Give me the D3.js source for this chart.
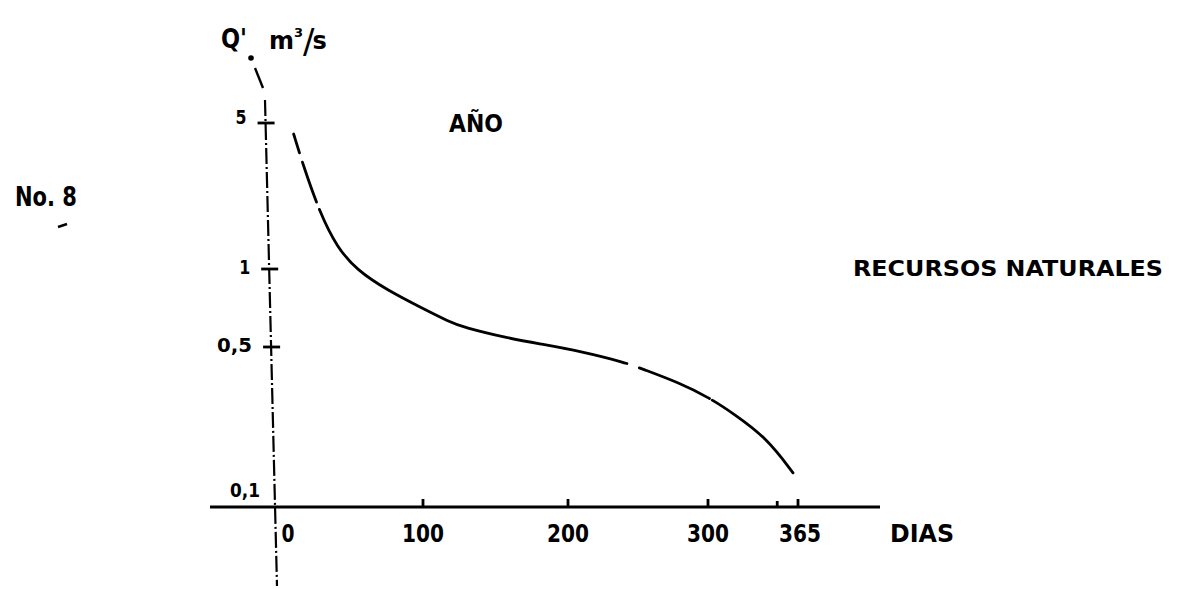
<!DOCTYPE html>
<html><head><meta charset="utf-8">
<script src="https://cdn.jsdelivr.net/npm/d3@7"></script>
<style>body{margin:0;background:#fff}svg{display:block}</style></head>
<body><svg id="c" width="1177" height="589"></svg>
<script>
// ---- data ----
const days  = [12, 18.4, 29.9, 41.5, 55, 75.5, 98, 118.6, 127.6, 157.9, 180.7, 208.6, 242, 251, 280, 301.4, 318, 342.6, 361.4];
const flows = [4.43, 3.15, 1.85, 1.27, 0.99, 0.83, 0.713, 0.624, 0.597, 0.542, 0.514, 0.480, 0.426, 0.405, 0.348, 0.299, 0.257, 0.200, 0.141];
const gapDays = [[16, 18], [27.5, 29.5], [242, 251], [301, 303]];
const xTickValues = [100, 200, 300, 350, 365];
const xLabelValues = [0, 100, 200, 300, 365];
const xLabelTexts = ["0", "100", "200", "300", "365"];
const yTickValues = [5, 1, 0.5, 0.1];
const yTickLabels = ["5", "1", "0,5", "0,1"];

const svg = d3.select("#c");
const FONT = "DejaVu Sans, sans-serif";

// hand-drawn axes: piecewise scales matching the drawing
const x = d3.scaleLinear().domain([0, 100, 200, 300, 365]).range([276, 423, 568, 708, 798]);
const y = d3.scaleLog().domain([0.1, 0.5, 1, 5]).range([507, 347, 269, 123]);

// y axis (slightly slanted dash-dot line)
const axTop = [265, 100], axBot = [277, 586];
const axisX = py => axTop[0] + (axBot[0] - axTop[0]) * (py - axTop[1]) / (axBot[1] - axTop[1]);
svg.append("line").attr("x1", axTop[0]).attr("y1", axTop[1]).attr("x2", axBot[0]).attr("y2", axBot[1])
  .attr("stroke", "#000").attr("stroke-width", 2.2).attr("stroke-dasharray", "16,3,2,3");
svg.append("line").attr("x1", 255).attr("y1", 68).attr("x2", 263).attr("y2", 88)
  .attr("stroke", "#000").attr("stroke-width", 2.4);
svg.append("circle").attr("cx", 251).attr("cy", 58).attr("r", 2.8).attr("fill", "#000");

// y ticks and labels
yTickValues.forEach((v, i) => {
  const py = y(v), ax = axisX(py);
  if (v !== 0.1) {
    svg.append("line").attr("x1", ax - 8).attr("x2", ax + 9).attr("y1", py).attr("y2", py)
      .attr("stroke", "#000").attr("stroke-width", 2.8);
  }
  const isLow = v === 0.1;
  const t = svg.append("text").attr("x", ax - (isLow ? 15 : 19)).attr("y", py + (isLow ? -17 : (v === 5 ? -6 : -2)))
    .attr("text-anchor", "end").attr("dominant-baseline", "central")
    .attr("font-family", FONT).attr("font-size", 20).attr("font-weight", "bold")
    .text(yTickLabels[i]);
  if (yTickLabels[i].length > 1) t.attr("textLength", isLow ? 30 : 35).attr("lengthAdjust", "spacingAndGlyphs");
  else t.attr("textLength", 11).attr("lengthAdjust", "spacingAndGlyphs");
});

// x axis
svg.append("line").attr("x1", 210).attr("x2", 880).attr("y1", y(0.1)).attr("y2", y(0.1))
  .attr("stroke", "#000").attr("stroke-width", 3);
svg.selectAll(".xt").data(xTickValues).join("line").attr("class", "xt")
  .attr("x1", d => x(d)).attr("x2", d => x(d))
  .attr("y1", y(0.1)).attr("y2", d => y(0.1) - (d === 350 ? 6 : 8))
  .attr("stroke", "#000").attr("stroke-width", 2.8);
svg.selectAll(".xl").data(xLabelValues).join("text").attr("class", "xl")
  .attr("x", d => x(d) + (d === 0 ? 12 : d === 365 ? 2 : 0))
  .attr("y", 533).attr("text-anchor", "middle").attr("dominant-baseline", "central")
  .attr("font-family", FONT).attr("font-size", 25).attr("font-weight", "bold")
  .attr("textLength", (d, i) => xLabelTexts[i].length > 1 ? 42 : 13)
  .attr("lengthAdjust", "spacingAndGlyphs")
  .text((d, i) => xLabelTexts[i]);

// curve
const line = d3.line().x(d => x(d[0])).y(d => y(d[1])).curve(d3.curveBasis);
const pts = days.map((d, i) => [d, flows[i]]);
const path = svg.append("path").attr("d", line(pts)).attr("fill", "none")
  .attr("stroke", "#000").attr("stroke-width", 2.8).attr("stroke-linecap", "round");
const node = path.node(), L = node.getTotalLength();
function lenAtX(px) {
  let lo = 0, hi = L;
  for (let k = 0; k < 40; k++) { const m = (lo + hi) / 2; if (node.getPointAtLength(m).x < px) lo = m; else hi = m; }
  return (lo + hi) / 2;
}
let dash = [], pos = 0;
gapDays.forEach(g => {
  const a = lenAtX(x(g[0])), b = lenAtX(x(g[1]));
  dash.push(a - pos, b - a); pos = b;
});
dash.push(L - pos + 10, 0);
path.attr("stroke-dasharray", dash.join(","));

// texts
svg.append("text").attr("x", 221).attr("y", 48).attr("font-family", FONT).attr("font-size", 27).attr("font-weight", "bold")
  .attr("textLength", 26).attr("lengthAdjust", "spacingAndGlyphs").text("Q'");
svg.append("circle").attr("cx", 249).attr("cy", 58).attr("r", 0).attr("fill", "#000");
const u = svg.append("text").attr("x", 269).attr("y", 49).attr("font-family", FONT).attr("font-size", 24).attr("font-weight", "bold");
u.append("tspan").text("m");
u.append("tspan").attr("dy", -12).attr("font-size", 13).text("3");
u.append("tspan").attr("dy", 16).attr("font-size", 34).attr("font-weight", "normal").text("/");
u.append("tspan").attr("dy", -4).attr("dx", -2).text("s");

svg.append("text").attr("x", 476).attr("y", 123).attr("text-anchor", "middle").attr("dominant-baseline", "central")
  .attr("font-family", FONT).attr("font-size", 25).attr("font-weight", "bold").attr("textLength", 54).attr("lengthAdjust", "spacingAndGlyphs").text("AÑO");
svg.append("text").attr("x", 15).attr("y", 197).attr("dominant-baseline", "central")
  .attr("font-family", FONT).attr("font-size", 26).attr("font-weight", "bold").attr("textLength", 62).attr("lengthAdjust", "spacingAndGlyphs").text("No. 8");
svg.append("line").attr("x1", 58).attr("x2", 67).attr("y1", 227).attr("y2", 224).attr("stroke", "#000").attr("stroke-width", 2.5);
svg.append("text").attr("x", 853).attr("y", 269).attr("dominant-baseline", "central")
  .attr("font-family", FONT).attr("font-size", 21).attr("font-weight", "bold").attr("textLength", 310).attr("lengthAdjust", "spacingAndGlyphs").text("RECURSOS NATURALES");
svg.append("text").attr("x", 890).attr("y", 534).attr("dominant-baseline", "central")
  .attr("font-family", FONT).attr("font-size", 24).attr("font-weight", "bold").attr("textLength", 64).attr("lengthAdjust", "spacingAndGlyphs").text("DIAS");
</script></body></html>
